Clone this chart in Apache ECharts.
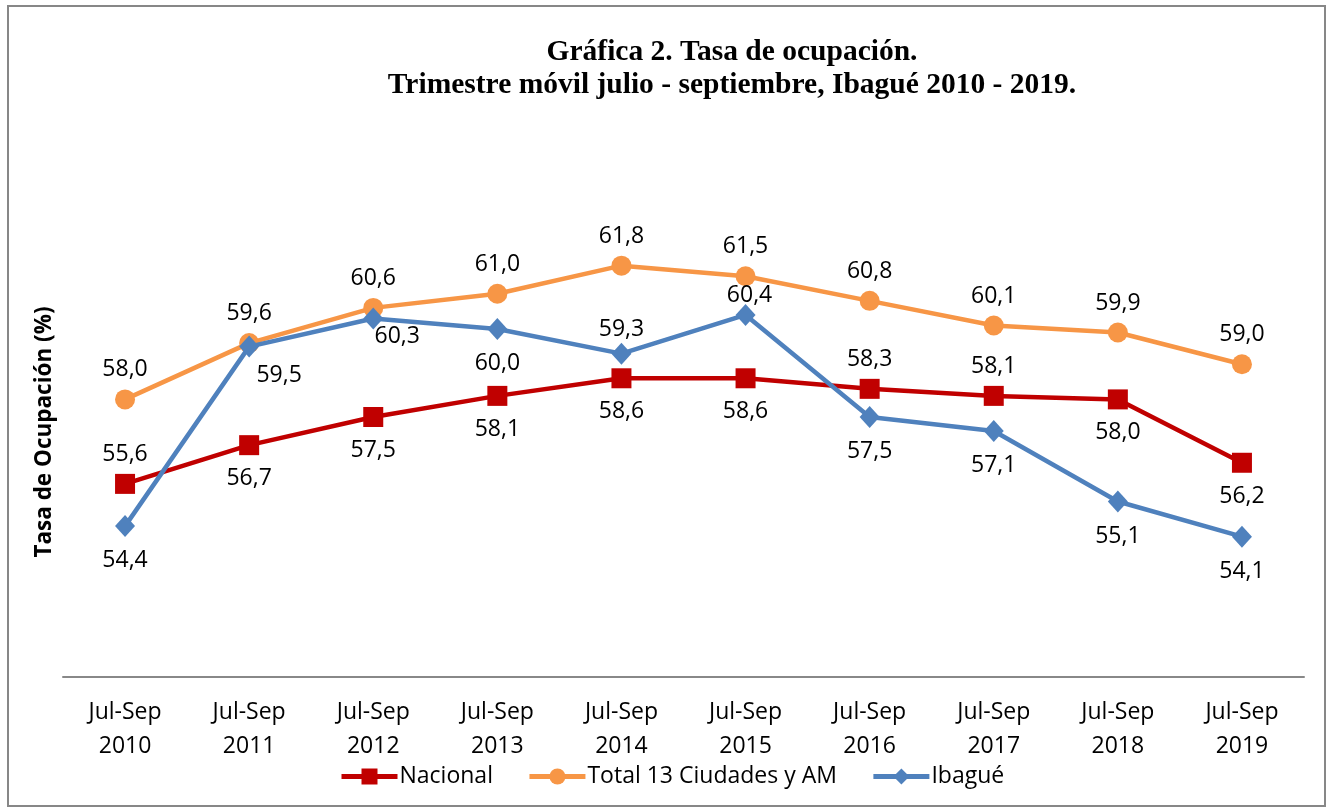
<!DOCTYPE html>
<html>
<head>
<meta charset="utf-8">
<script src="https://cdn.jsdelivr.net/npm/echarts@6/dist/echarts.min.js"></script>
<style>
html,body{margin:0;padding:0;background:#fff;}
#chart{position:absolute;left:0;top:0;width:1329px;height:808px;}
</style>
</head>
<body>
<div id="chart"></div>
<script>
const categories = ['Jul-Sep\n2010','Jul-Sep\n2011','Jul-Sep\n2012','Jul-Sep\n2013','Jul-Sep\n2014','Jul-Sep\n2015','Jul-Sep\n2016','Jul-Sep\n2017','Jul-Sep\n2018','Jul-Sep\n2019'];
const nacional = [55.6, 56.7, 57.5, 58.1, 58.6, 58.6, 58.3, 58.1, 58.0, 56.2];
const total13 = [58.0, 59.6, 60.6, 61.0, 61.8, 61.5, 60.8, 60.1, 59.9, 59.0];
const ibague = [54.4, 59.5, 60.3, 60.0, 59.3, 60.4, 57.5, 57.1, 55.1, 54.1];

const FONT = 'Open Sans';
const fmt = p => p.value.toFixed(1).replace('.', ',');

// label placement per point
const nacPos = ['top','bottom','bottom','bottom','bottom','bottom','top','top','bottom','bottom'];
const ibaPos = ['bottom','bottom','bottom','bottom','top','top','bottom','bottom','bottom','bottom'];
const ibaOff = [[0,0],[30,-6],[24,-16],[0,0],[0,0],[4,0],[0,0],[0,0],[0,0],[0,0]];
const ibaDist = [12,12,12,12,2,-3,12,12,12,12];

const labelBase = {show:true, formatter: fmt, fontFamily: FONT, fontSize: 23, color:'#000', distance: 12};

const chart = echarts.init(document.getElementById('chart'), null, {renderer:'canvas'});
chart.setOption({
  animation:false,
  backgroundColor:'#fff',
  title:{
    text:'Gráfica 2. Tasa de ocupación.\nTrimestre móvil julio - septiembre, Ibagué 2010 - 2019.',
    left: 727, top: 31, textAlign:'center',
    textStyle:{fontFamily:'Liberation Serif', fontWeight:'bold', fontSize:29.5, lineHeight:33, color:'#000'}
  },
  legend:{
    top: 760, left: 334, itemWidth: 56, itemHeight: 20, itemGap: 34,
    lineStyle:{width:5},
    textStyle:{fontFamily: FONT, fontSize: 23, color:'#000', padding:[0,0,0,-3]},
    data:['Nacional','Total 13 Ciudades y AM','Ibagué']
  },
  grid:{left:63, right:25, top:153, bottom:127, containLabel:false},
  xAxis:{
    type:'category', data: categories, boundaryGap:true, offset:-4,
    axisLine:{show:true, lineStyle:{color:'#888888', width:2}},
    axisTick:{show:false},
    axisLabel:{fontFamily: FONT, fontSize:23, color:'#000', lineHeight:34, margin:18}
  },
  yAxis:{
    type:'value', min:50, max:65,
    axisLine:{show:false}, axisTick:{show:false}, axisLabel:{show:false}, splitLine:{show:false}
  },
  graphic:[
    {type:'rect', shape:{x:8, y:6, width:1317, height:800}, style:{fill:'none', stroke:'#878787', lineWidth:2}, silent:true},
    {type:'text', x:45, y:432, rotation:Math.PI/2,
     style:{text:'Tasa de Ocupación (%)', fontFamily: FONT, fontWeight:'bold', fontSize:22.5, fill:'#000', align:'center', verticalAlign:'middle'}}
  ],
  series:[
    {
      name:'Nacional', type:'line', z:3,
      data: nacional.map((v,i)=>({value:v, label:{position:nacPos[i], distance: nacPos[i]==='top' ? 8 : 12}})),
      symbol:'rect', symbolSize:20,
      lineStyle:{color:'#C00000', width:4.5}, itemStyle:{color:'#C00000'},
      label: Object.assign({}, labelBase)
    },
    {
      name:'Total 13 Ciudades y AM', type:'line', z:2,
      data: total13,
      symbol:'circle', symbolSize:20,
      lineStyle:{color:'#F79646', width:4.5}, itemStyle:{color:'#F79646'},
      label: Object.assign({}, labelBase, {position:'top', distance:8})
    },
    {
      name:'Ibagué', type:'line', z:4,
      data: ibague.map((v,i)=>({value:v, label:{position:ibaPos[i], offset:ibaOff[i], distance:ibaDist[i]}})),
      symbol:'diamond', symbolSize:[20,22],
      lineStyle:{color:'#4F81BD', width:4.5}, itemStyle:{color:'#4F81BD'},
      label: Object.assign({}, labelBase)
    }
  ]
});
</script>
</body>
</html>
